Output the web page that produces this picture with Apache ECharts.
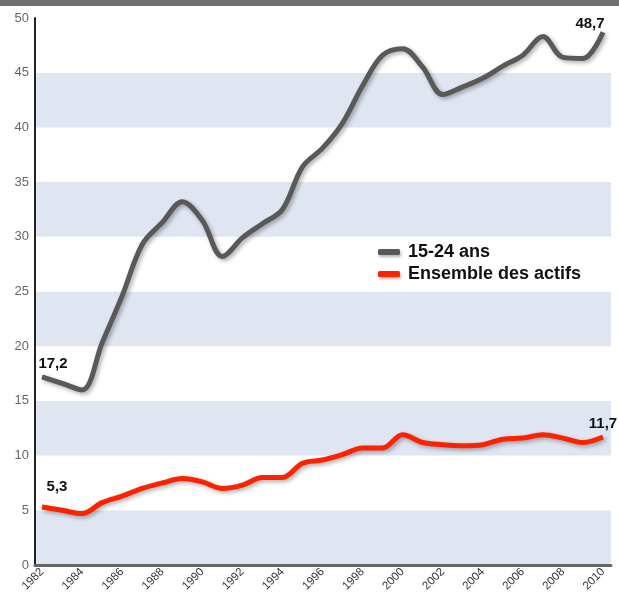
<!DOCTYPE html>
<html>
<head>
<meta charset="utf-8">
<script src="https://cdn.jsdelivr.net/npm/echarts@6/dist/echarts.min.js"></script>
<style>
  html, body { margin: 0; padding: 0; background: #fff; }
  #chart { width: 619px; height: 596px; }
</style>
</head>
<body>
<div id="chart"></div>
<script>
// Taux de chômage (%) : jeunes de 15-24 ans et ensemble des actifs, 1982-2010
var years = [1982, 1983, 1984, 1985, 1986, 1987, 1988, 1989, 1990, 1991,
             1992, 1993, 1994, 1995, 1996, 1997, 1998, 1999, 2000, 2001,
             2002, 2003, 2004, 2005, 2006, 2007, 2008, 2009, 2010];
var jeunes = [17.2, 16.6, 16.0, 20.3, 24.6, 29.3, 31.3, 33.2, 31.5, 28.2,
              29.9, 31.2, 32.5, 36.4, 38.1, 40.4, 43.8, 46.6, 47.2, 45.5,
              43.0, 43.7, 44.5, 45.6, 46.6, 48.3, 46.4, 46.3, 48.7];
var actifs = [5.3, 5.0, 4.7, 5.7, 6.3, 7.0, 7.5, 7.9, 7.6, 7.0,
              7.3, 8.0, 8.0, 9.3, 9.6, 10.1, 10.7, 10.7, 11.9, 11.2,
              11.0, 10.9, 11.0, 11.5, 11.6, 11.9, 11.6, 11.2, 11.7];
var xTicks = [1982, 1984, 1986, 1988, 1990, 1992, 1994, 1996, 1998, 2000,
              2002, 2004, 2006, 2008, 2010];
var seriesNames = ['15-24 ans', 'Ensemble des actifs'];
var seriesColors = ['#595959', '#ff2200'];

function frNum(v) { return String(v).replace('.', ','); }

// Points with a value label: first and last year of each series
function buildData(values, firstOffset, lastOffset) {
  return years.map(function (y, i) {
    var p = { value: [y, values[i]] };
    if (i === 0 || i === years.length - 1) {
      p.label = {
        show: true,
        position: 'top',
        offset: i === 0 ? firstOffset : lastOffset,
        formatter: function (d) { return frNum(d.value[1]); }
      };
    }
    return p;
  });
}

var labelStyle = {
  fontFamily: 'Liberation Sans, Arial, sans-serif',
  fontWeight: 'bold',
  fontSize: 15,
  color: '#111'
};

function lineSeries(idx, values, firstOffset, lastOffset) {
  return {
    name: seriesNames[idx],
    type: 'line',
    smooth: 0.35,
    symbol: 'circle',
    symbolSize: 1,
    showSymbol: true,
    // invisible markers, only used to anchor the value labels
    itemStyle: { color: 'rgba(0,0,0,0)' },
    lineStyle: {
      width: 5,
      color: seriesColors[idx],
      shadowColor: 'rgba(0,0,0,0.33)',
      shadowBlur: 4,
      shadowOffsetX: 2,
      shadowOffsetY: 2
    },
    label: labelStyle,
    data: buildData(values, firstOffset, lastOffset)
  };
}

var chart = echarts.init(document.getElementById('chart'));
chart.setOption({
  animation: false,
  backgroundColor: '#fff',
  graphic: [{
    type: 'rect',
    shape: { x: 0, y: 0, width: 619, height: 6 },
    style: { fill: '#6f6f6f' },
    silent: true
  }],
  grid: { left: 35, right: 8, top: 18, bottom: 31, containLabel: false },
  legend: {
    orient: 'vertical',
    left: 373,
    top: 238,
    itemWidth: 22,
    itemHeight: 6,
    itemGap: 4,
    icon: 'roundRect',
    data: seriesNames.map(function (n, i) {
      return {
        name: n,
        itemStyle: {
          color: seriesColors[i],
          shadowColor: 'rgba(0,0,0,0.3)',
          shadowBlur: 3,
          shadowOffsetX: 1,
          shadowOffsetY: 2
        }
      };
    }),
    textStyle: {
      fontFamily: 'Liberation Sans, Arial, sans-serif',
      fontWeight: 'bold',
      fontSize: 18,
      color: '#111',
      padding: [0, 0, 0, 3]
    }
  },
  xAxis: {
    type: 'value',
    min: 1981.65,
    max: 2010.4,
    splitLine: { show: false },
    axisLine: { show: true, lineStyle: { color: '#666', width: 3 } },
    axisTick: { show: false },
    axisLabel: {
      customValues: xTicks,
      formatter: function (v) { return String(v); },
      rotate: 45,
      margin: 5,
      fontSize: 11.5,
      color: '#333',
      fontFamily: 'Liberation Sans, Arial, sans-serif'
    }
  },
  yAxis: {
    type: 'value',
    min: 0,
    max: 50,
    interval: 5,
    axisLine: { show: true, lineStyle: { color: '#222', width: 2 } },
    axisTick: { show: false },
    splitLine: { show: false },
    splitArea: { show: true, areaStyle: { color: ['#dfe6f2', '#ffffff'] } },
    axisLabel: {
      margin: 6,
      fontSize: 13,
      color: '#666',
      fontFamily: 'Liberation Sans, Arial, sans-serif'
    }
  },
  series: [
    lineSeries(0, jeunes, [11, 0], [-13, 5]),
    lineSeries(1, actifs, [15, -7], [0, 0])
  ]
});
</script>
</body>
</html>
